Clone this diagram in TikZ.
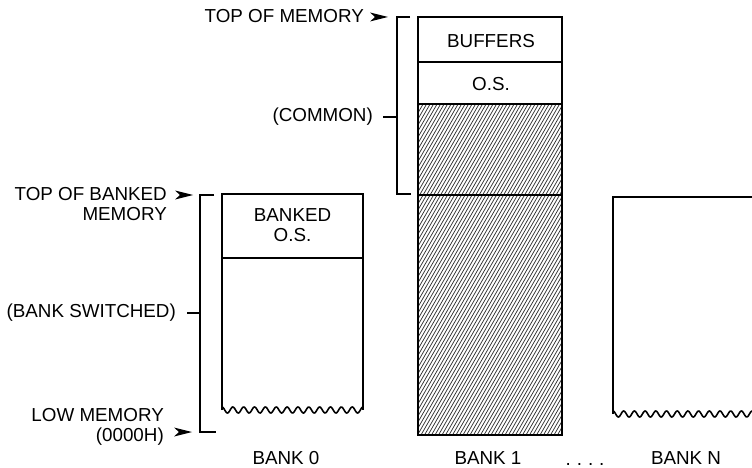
\documentclass[tikz,border=0pt]{standalone}
\usepackage{fontspec}
\setmainfont{Liberation Sans}
\begin{document}
\begin{tikzpicture}[x=1pt,y=-1pt,
  boxline/.style={line width=1.9pt,line join=miter},
  brackline/.style={line width=1.7pt},
  lbl/.style={inner sep=0pt,font=\fontsize{18.8}{19.5}\selectfont},
  hatchline/.style={line width=0.75pt,black!80},
  ptr/.style={fill=black}]
\useasboundingbox (0,0) rectangle (752,468);

% ---------- BANK 0 ----------
\coordinate (b0tl) at (222,194);
\coordinate (b0tr) at (363,194);
\coordinate (b0bl) at (222,410);
\coordinate (b0br) at (363,410);
\draw[boxline] (b0bl) -- (b0tl) -- (b0tr) -- (b0br);
\draw[boxline] (222,258) -- (363,258);
\draw[line width=1.6pt] plot[domain=0:141,samples=200] ({222+\x},{410-3*cos(33.18*\x)});
\node[lbl,align=center] (bos) at (292.5,225) {BANKED\\O.S.};

% ---------- BANK 1 ----------
\begin{scope}
  \clip (418,104) rectangle (562,435);
  \foreach \i in {-200,-196.5,...,160} {
    \draw[hatchline] (418+\i,435) -- ++(220,-381);
  }
\end{scope}
\draw[boxline] (418,17) rectangle (562,435);
\draw[boxline] (418,62) -- (562,62);
\draw[boxline] (418,104) -- (562,104);
\draw[boxline] (418,195) -- (562,195);
\node[lbl] (buf) at (491,41) {BUFFERS};
\node[lbl] (os) at (491,84) {O.S.};

% ---------- BANK N ----------
\draw[boxline] (613,414) -- (613,197) -- (753,197);
\draw[line width=1.6pt] plot[domain=0:139,samples=200] ({613+\x},{414-3*cos(33.64*\x)});

% ---------- brackets ----------
\draw[brackline] (410,17) -- (397,17) -- (397,194) -- (411,194);
\coordinate (ctick) at (397,117);
\draw[brackline] (383,117) -- (ctick);
\draw[brackline] (214,195) -- (200,195) -- (200,432) -- (216,432);
\coordinate (btick) at (200,313);
\draw[brackline] (187,313) -- (btick);

% ---------- pointers ----------
\coordinate (p1) at (388,17);
\coordinate (p2) at (193,195);
\coordinate (p3) at (192,432);
\foreach \p in {p1,p2,p3} {
  \fill[ptr] (\p) -- ++(-18,-4.5) -- ++(5,4.5) -- ++(-5,4.5) -- cycle;
}

% ---------- labels ----------
\node[lbl,anchor=east] (topmem) at (364,16) {TOP OF MEMORY};
\node[lbl,anchor=east] (common) at (373,117) {(COMMON)};
\node[lbl,anchor=east,align=right] (topbank) at (167,204) {TOP OF BANKED\\MEMORY};
\node[lbl,anchor=east] (bsw) at (176,313) {(BANK SWITCHED)};
\node[lbl,anchor=east,align=right] (lowmem) at (164,427) {LOW MEMORY\\(0000H)};

\node[lbl] (bank0) at (286,458) {BANK 0};
\node[lbl] (bank1) at (488,458) {BANK 1};
\node[lbl] (bankn) at (686,458) {BANK N};
\node[lbl,anchor=base] (dots) at (585,465) {.\hspace{6pt}.\hspace{6pt}.\hspace{6pt}.};
\end{tikzpicture}
\end{document}
